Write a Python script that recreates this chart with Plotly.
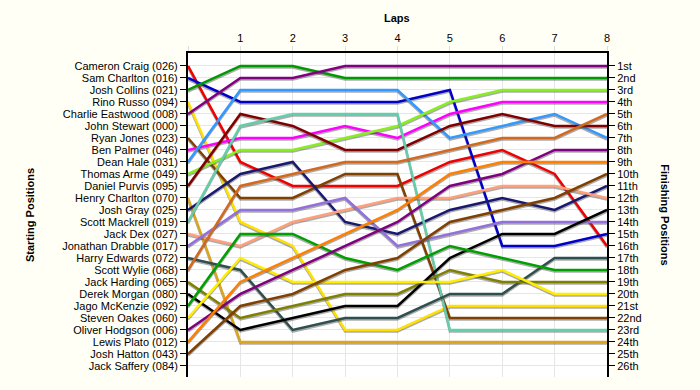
import plotly.graph_objects as go

laps = [0, 1, 2, 3, 4, 5, 6, 7, 8]
lap_labels = ["", "1", "2", "3", "4", "5", "6", "7", "8"]

drivers = [
    "Cameron Craig (026)", "Sam Charlton (016)", "Josh Collins (021)", "Rino Russo (094)",
    "Charlie Eastwood (008)", "John Stewart (000)", "Ryan Jones (023)", "Ben Palmer (046)",
    "Dean Hale (031)", "Thomas Arme (049)", "Daniel Purvis (095)", "Henry Charlton (070)",
    "Josh Gray (025)", "Scott Mackrell (019)", "Jack Dex (027)", "Jonathan Drabble (017)",
    "Harry Edwards (072)", "Scott Wylie (068)", "Jack Harding (065)", "Derek Morgan (080)",
    "Jago McKenzie (092)", "Steven Oakes (060)", "Oliver Hodgson (006)", "Lewis Plato (012)",
    "Josh Hatton (043)", "Jack Saffery (084)",
]

finish_labels = ["1st", "2nd", "3rd", "4th", "5th", "6th", "7th", "8th", "9th", "10th",
                 "11th", "12th", "13th", "14th", "15th", "16th", "17th", "18th", "19th",
                 "20th", "21st", "22nd", "23rd", "24th", "25th", "26th"]

# positions at laps 0..8 (None = no data)
cameron_craig = [1, 9, 11, 11, 11, 9, 8, 10, 16]
sam_charlton = [2, 4, 4, 4, 4, 3, 16, 16, 15]
josh_collins = [3, 1, 1, 2, 2, 2, 2, 2, 2]
rino_russo = [4, 14, 16, 23, 23, 21, 21, 21, 21]
charlie_eastwood = [5, 2, 2, 1, 1, 1, 1, 1, 1]
john_stewart = None
ryan_jones = [7, 12, 12, 10, 10, 22, 22, 22, 22]
ben_palmer = [8, 7, 7, 6, 7, 5, 4, 4, 4]
dean_hale = [9, 3, 3, 3, 3, 7, 6, 5, 7]
thomas_arme = [10, 8, 8, 7, 6, 4, 3, 3, 3]
daniel_purvis = [11, 5, 6, 8, 8, 6, 5, 6, 6]
henry_charlton = [12, 24, 24, 24, 24, 24, 24, 24, 24]
josh_gray = [13, 10, 9, 14, 15, 13, 12, 13, 11]
scott_mackrell = [14, 6, 5, 5, 5, 23, 23, 23, 23]
jack_dex = [15, 16, 14, 13, 12, 12, 11, 11, 12]
jonathan_drabble = [16, 13, 13, 12, 16, 15, 14, 14, 14]
harry_edwards = [17, 18, 23, 22, 22, 20, 20, 17, 17]
scott_wylie = [18, 11, 10, 9, 9, 8, 7, 7, 5]
jack_harding = [19, 22, 21, 20, 20, 18, 19, 19, 19]
derek_morgan = [20, 23, 22, 21, 21, 17, 15, 15, 13]
jago_mckenzie = [21, 15, 15, 17, 18, 16, 17, 18, 18]
steven_oakes = [22, 17, 19, 19, 19, 19, 18, 20, 20]
oliver_hodgson = [23, 20, 18, 16, 14, 11, 10, 8, 8]
lewis_plato = [24, 19, 17, 15, 13, 10, 9, 9, 9]
josh_hatton = [25, 21, 20, 18, 17, 14, 13, 12, 10]
jack_saffery = None

series = [cameron_craig, sam_charlton, josh_collins, rino_russo, charlie_eastwood,
          john_stewart, ryan_jones, ben_palmer, dean_hale, thomas_arme, daniel_purvis,
          henry_charlton, josh_gray, scott_mackrell, jack_dex, jonathan_drabble,
          harry_edwards, scott_wylie, jack_harding, derek_morgan, jago_mckenzie,
          steven_oakes, oliver_hodgson, lewis_plato, josh_hatton, jack_saffery]

colors = ["#F00000", "#0000CC", "#009900", "#FFE000", "#800080",
          "#999999", "#804000", "#FF00FF", "#3399FF", "#88EE22", "#800000",
          "#DAA520", "#191970", "#66CDAA", "#FFA07A", "#9370DB",
          "#2F4F4F", "#D2691E", "#808000", "#000000", "#00A000",
          "#FFEE00", "#800080", "#FF8000", "#804000", "#999999"]

fig = go.Figure()
shadow_dy = 0.13
for name, vals, col in zip(drivers, series, colors):
    if vals is None:
        continue
    fig.add_trace(go.Scatter(x=laps, y=[v + shadow_dy for v in vals], mode="lines",
                             line=dict(color="rgba(70,70,70,0.45)", width=2.5),
                             hoverinfo="skip", showlegend=False))
    fig.add_trace(go.Scatter(x=laps, y=vals, mode="lines", name=name,
                             line=dict(color=col, width=2.5), showlegend=False))

# invisible trace on the right axis so it is drawn
finals = [v[-1] for v in series if v is not None]
fig.add_trace(go.Scatter(x=[laps[-1]] * len(finals), y=finals, yaxis="y2", mode="markers",
                         marker=dict(opacity=0), hoverinfo="skip", showlegend=False))

font = "Liberation Sans, Arial, sans-serif"
yrange = [26.92, -0.08]
positions = list(range(1, len(drivers) + 1))

fig.update_layout(
    template="none",
    width=700, height=390,
    margin=dict(l=188, r=93, t=53, b=13, autoexpand=False),
    paper_bgcolor="#FFFFF6",
    plot_bgcolor="#FFFFFF",
    hovermode=False,
    font=dict(family=font, size=11, color="#000000"),
    xaxis=dict(range=[0, 8], side="top", tickvals=laps, ticktext=lap_labels,
               showgrid=True, gridcolor="#E6E6E6", gridwidth=1, zeroline=False,
               showline=True, linecolor="#000000", linewidth=1.5,
               ticks="outside", ticklen=5, tickcolor="#DDDDDD", automargin=False,
               tickfont=dict(family=font, size=11)),
    yaxis=dict(range=yrange, tickvals=positions, ticktext=drivers,
               showgrid=True, gridcolor="#E6E6E6", gridwidth=1, zeroline=False,
               showline=True, linecolor="#000000", linewidth=2,
               ticks="outside", ticklen=6, tickcolor="#000000", automargin=False,
               tickfont=dict(family=font, size=11)),
    yaxis2=dict(range=yrange, overlaying="y", side="right", tickvals=positions,
                ticktext=finish_labels, showgrid=False, zeroline=False,
                showline=True, linecolor="#000000", linewidth=2,
                ticks="outside", ticklen=6, tickcolor="#000000", automargin=False,
                tickfont=dict(family=font, size=11)),
    annotations=[
        dict(text="<b>Laps</b>", xref="paper", yref="paper", x=0.499, y=1.108,
             xanchor="center", yanchor="middle",
             showarrow=False, font=dict(family=font, size=11)),
        dict(text="<b>Starting Positions</b>", xref="paper", yref="paper", x=-0.377, y=0.5,
             xanchor="center", yanchor="middle",
             textangle=-90, showarrow=False, font=dict(family=font, size=11)),
        dict(text="<b>Finishing Positions</b>", xref="paper", yref="paper", x=1.138, y=0.5,
             xanchor="center", yanchor="middle",
             textangle=90, showarrow=False, font=dict(family=font, size=11)),
    ],
)

fig.write_html("out.html",
               config={"displayModeBar": False},
               post_script="document.body.style.margin='0';"
                           "document.body.style.background='#FFFFF6';")
